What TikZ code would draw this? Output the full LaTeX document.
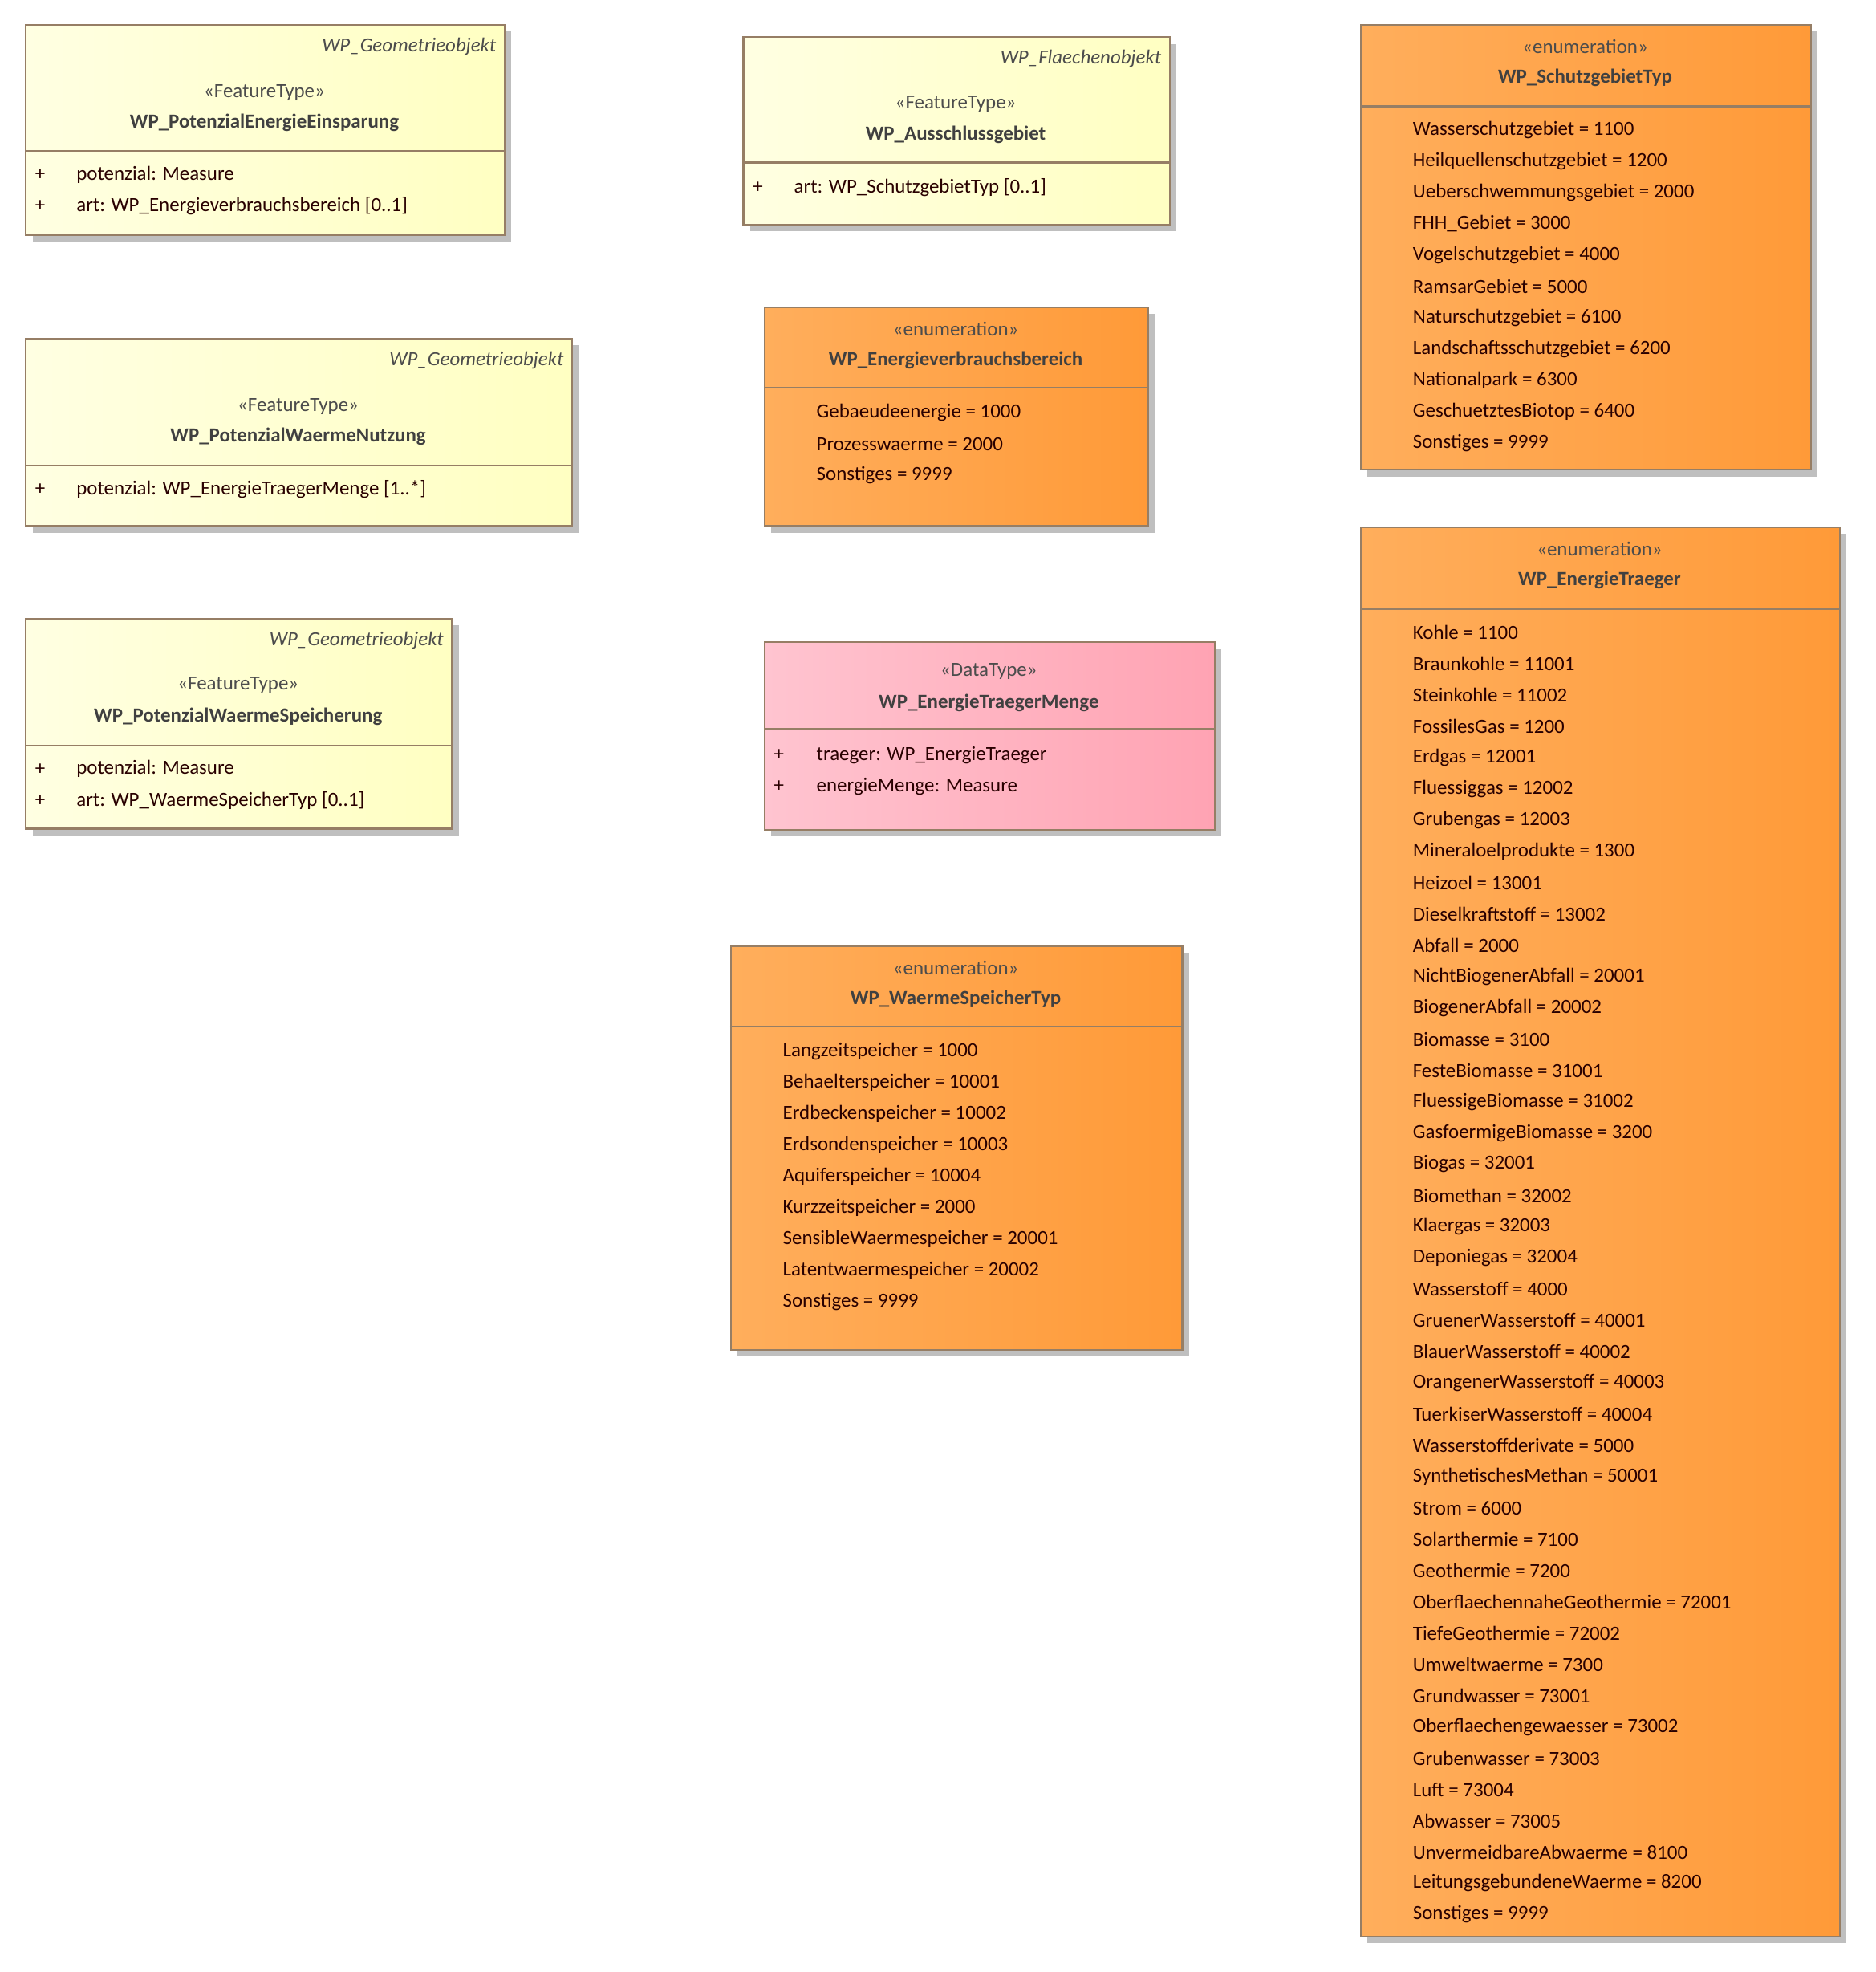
\documentclass[tikz,border=0pt]{standalone}
\usepackage{fontspec}
\setmainfont{Carlito}
\begin{document}
\begin{tikzpicture}[x=1pt,y=-1pt,
  txt/.style={inner sep=0pt,anchor=west,font=\fontsize{16}{20}\selectfont,text=black!60!red!40!black},
  ctr/.style={inner sep=0pt,font=\fontsize{16}{20}\selectfont,text=black!70},
  nm/.style={inner sep=0pt,font=\fontsize{16}{20}\selectfont\bfseries,text=black!75},
  par/.style={inner sep=0pt,anchor=east,font=\fontsize{16}{20}\selectfont\itshape,text=black!70},
  bd/.style={draw=black!45!brown!70,line width=1.4pt}]
\definecolor{yl}{HTML}{FFFFE2}\definecolor{yr}{HTML}{FFFFC2}
\definecolor{ol}{HTML}{FFAE5C}\definecolor{or}{HTML}{FF9A38}
\definecolor{pl}{HTML}{FFC4D0}\definecolor{pr}{HTML}{FFA3B3}
\useasboundingbox (0,0) rectangle (1500,1577);
\newcommand{\ubox}[7]{%
 \fill[black!25] (#2+6,#3+6) rectangle (#4+6,#5+6);
 \node[bd,left color=#6l,right color=#6r,minimum width=#4-#2,minimum height=#5-#3,inner sep=0pt,anchor=north west] (#1) at (#2,#3) {};
 \draw[bd] (#2,#7) -- (#4,#7);}
% 1
\ubox{b1}{20}{19}{403}{187}{y}{121}
\node[par] at (397,37) {WP\_Geometrieobjekt};
\node[ctr] at (211.5,74) {«FeatureType»};
\node[nm] at (211.5,98) {WP\_PotenzialEnergieEinsparung};
\node[txt] at (28,140) {+}; \node[txt] at (61,140) {potenzial: Measure};
\node[txt] at (28,165) {+}; \node[txt] at (61,165) {art: WP\_Energieverbrauchsbereich [0..1]};
% 2
\ubox{b2}{20}{270}{457}{420}{y}{372}
\node[par] at (451,288) {WP\_Geometrieobjekt};
\node[ctr] at (238.5,325) {«FeatureType»};
\node[nm] at (238.5,349) {WP\_PotenzialWaermeNutzung};
\node[txt] at (28,391) {+}; \node[txt] at (61,391) {potenzial: WP\_EnergieTraegerMenge [1..*]};
% 3
\ubox{b3}{20}{494}{361}{662}{y}{596}
\node[par] at (355,512) {WP\_Geometrieobjekt};
\node[ctr] at (190.5,548) {«FeatureType»};
\node[nm] at (190.5,573) {WP\_PotenzialWaermeSpeicherung};
\node[txt] at (28,615) {+}; \node[txt] at (61,615) {potenzial: Measure};
\node[txt] at (28,640) {+}; \node[txt] at (61,640) {art: WP\_WaermeSpeicherTyp [0..1]};
% 4
\ubox{b4}{594}{29}{935}{179}{y}{130}
\node[par] at (929,47) {WP\_Flaechenobjekt};
\node[ctr] at (764.5,83) {«FeatureType»};
\node[nm] at (764.5,108) {WP\_Ausschlussgebiet};
\node[txt] at (602,150) {+}; \node[txt] at (635,150) {art: WP\_SchutzgebietTyp [0..1]};
% 5
\ubox{b5}{611}{245}{918}{420}{o}{310}
\node[ctr] at (764.5,263) {«enumeration»};
\node[nm] at (764.5,288) {WP\_Energieverbrauchsbereich};
\foreach \t [count=\i from 0] in {Gebaeudeenergie = 1000,Prozesswaerme = 2000,Sonstiges = 9999}
  \node[txt] at (653,330+25*\i) {\t};
% 6
\ubox{b6}{611}{513}{971}{663}{p}{583}
\node[ctr] at (791,537) {«DataType»};
\node[nm] at (791,562) {WP\_EnergieTraegerMenge};
\node[txt] at (619,604) {+}; \node[txt] at (653,604) {traeger: WP\_EnergieTraeger};
\node[txt] at (619,629) {+}; \node[txt] at (653,629) {energieMenge: Measure};
% 7
\ubox{b7}{584}{756}{945}{1079}{o}{821}
\node[ctr] at (764.5,774) {«enumeration»};
\node[nm] at (764.5,799) {WP\_WaermeSpeicherTyp};
\foreach \t [count=\i from 0] in {Langzeitspeicher = 1000,Behaelterspeicher = 10001,Erdbeckenspeicher = 10002,Erdsondenspeicher = 10003,Aquiferspeicher = 10004,Kurzzeitspeicher = 2000,SensibleWaermespeicher = 20001,Latentwaermespeicher = 20002,Sonstiges = 9999}
  \node[txt] at (626,841+25*\i) {\t};
% 8
\ubox{b8}{1088}{19}{1448}{375}{o}{85}
\node[ctr] at (1268,37) {«enumeration»};
\node[nm] at (1268,62) {WP\_SchutzgebietTyp};
\foreach \t [count=\i from 0] in {Wasserschutzgebiet = 1100,Heilquellenschutzgebiet = 1200,Ueberschwemmungsgebiet = 2000,FHH\_Gebiet = 3000,Vogelschutzgebiet = 4000,RamsarGebiet = 5000,Naturschutzgebiet = 6100,Landschaftsschutzgebiet = 6200,Nationalpark = 6300,GeschuetztesBiotop = 6400,Sonstiges = 9999}
  \node[txt] at (1130,104+25*\i) {\t};
% 9
\ubox{b9}{1088}{421}{1471}{1548}{o}{487}
\node[ctr] at (1279.5,439) {«enumeration»};
\node[nm] at (1279.5,464) {WP\_EnergieTraeger};
\foreach \t [count=\i from 0] in {Kohle = 1100,Braunkohle = 11001,Steinkohle = 11002,FossilesGas = 1200,Erdgas = 12001,Fluessiggas = 12002,Grubengas = 12003,Mineraloelprodukte = 1300,Heizoel = 13001,Dieselkraftstoff = 13002,Abfall = 2000,NichtBiogenerAbfall = 20001,BiogenerAbfall = 20002,Biomasse = 3100,FesteBiomasse = 31001,FluessigeBiomasse = 31002,GasfoermigeBiomasse = 3200,Biogas = 32001,Biomethan = 32002,Klaergas = 32003,Deponiegas = 32004,Wasserstoff = 4000,GruenerWasserstoff = 40001,BlauerWasserstoff = 40002,OrangenerWasserstoff = 40003,TuerkiserWasserstoff = 40004,Wasserstoffderivate = 5000,SynthetischesMethan = 50001,Strom = 6000,Solarthermie = 7100,Geothermie = 7200,OberflaechennaheGeothermie = 72001,TiefeGeothermie = 72002,Umweltwaerme = 7300,Grundwasser = 73001,Oberflaechengewaesser = 73002,Grubenwasser = 73003,Luft = 73004,Abwasser = 73005,UnvermeidbareAbwaerme = 8100,LeitungsgebundeneWaerme = 8200,Sonstiges = 9999}
  \node[txt] at (1130,506+25*\i) {\t};
\end{tikzpicture}
\end{document}
